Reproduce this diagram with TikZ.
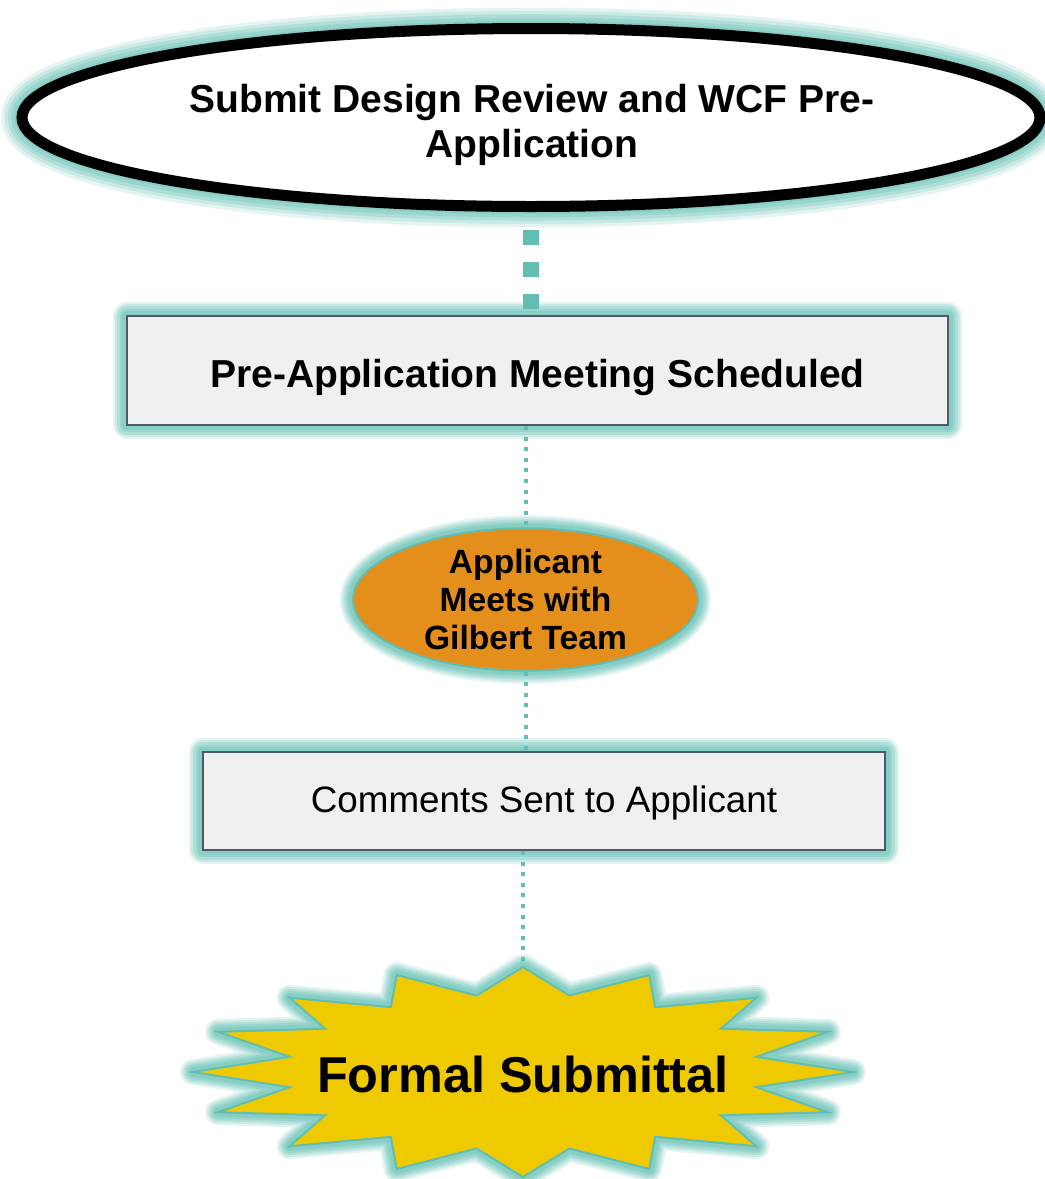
\documentclass[tikz,border=0pt]{standalone}
\usepackage{fontspec}
\setmainfont{Liberation Sans}
\usetikzlibrary{shapes.geometric,calc}

\definecolor{glowteal}{RGB}{92,188,176}
\definecolor{linkteal}{RGB}{98,190,179}
\definecolor{boxgray}{RGB}{240,240,240}
\definecolor{boxline}{RGB}{80,90,102}
\definecolor{meetorange}{RGB}{228,143,27}
\definecolor{burstyellow}{RGB}{240,202,0}

\tikzset{
  glow/.style={preaction={draw=glowteal,draw opacity=.16,line join=round,line width=#1},
               preaction={draw=glowteal,draw opacity=.2,line join=round,line width=0.84*#1},
               preaction={draw=glowteal,draw opacity=.24,line join=round,line width=0.68*#1},
               preaction={draw=glowteal,draw opacity=.26,line join=round,line width=0.52*#1},
               preaction={draw=glowteal,draw opacity=.3,line join=round,line width=0.36*#1}},
  glow/.default=14pt,
  stepbox/.style={rectangle,draw=boxline,line width=1pt,fill=boxgray,inner sep=0pt,glow},
  dotlink/.style={draw=linkteal,line width=2pt,dash pattern=on 2pt off 3.3pt},
  dashlink/.style={draw=linkteal,line width=8pt,dash pattern=on 7.5pt off 8.5pt},
}

\begin{document}
\begin{tikzpicture}[x=0.5pt,y=-0.5pt]
\useasboundingbox (0,0) rectangle (1045,1179);

\node [ellipse,draw=black,line width=5.5pt,fill=white,inner sep=0pt,
       minimum width=509pt,minimum height=89pt,glow=21pt] (submit) at (531,117.5) {};
\node [align=center,font=\bfseries\fontsize{19.5}{22.5}\selectfont] (submittext) at (532,125)
      {Submit Design Review and WCF Pre-\\Application};

\node [stepbox,minimum width=410.5pt,minimum height=54.5pt,text height=16.5pt,text depth=0pt,
       font=\bfseries\fontsize{19.5}{21.5}\selectfont] (prepmeet) at (537.5,370.5)
      {Pre-Application Meeting Scheduled};

\node [ellipse,draw=linkteal,line width=1pt,fill=meetorange,inner sep=0pt,
       minimum width=172.5pt,minimum height=67.5pt,glow=13pt,
       align=center,font=\bfseries\fontsize{16.8}{19}\selectfont] (meet) at (525.5,599.5)
      {Applicant\\Meets with\\Gilbert Team};

\node [stepbox,minimum width=341pt,minimum height=49pt,text height=11.7pt,text depth=0pt,
       font=\fontsize{18.4}{21}\selectfont] (comments) at (544,801)
      {Comments Sent to Applicant};

% the burst: 16 points round an ellipse
\filldraw [draw=linkteal,line width=1pt,fill=burstyellow,glow=13pt,shift={(523,1072)}]
  (0:330 and 105) \foreach \k in {0,...,15} { -- ({22.5*\k}:330 and 105) -- ({22.5*\k+11.25}:238 and 78) } -- cycle;
\node [font=\bfseries\fontsize{25.2}{30}\selectfont] (formal) at (523,1074) {Formal Submittal};
\coordinate (bursttop) at (523,967);

\draw [dashlink] ([yshift=-9pt]submit.south) -- ($(submit.south |- prepmeet.north)+(0,-6)$);
\draw [dotlink] (prepmeet.south -| meet.north) -- (meet.north);
\draw [dotlink] (meet.south) -- (meet.south |- comments.north);
\draw [dotlink] (comments.south -| bursttop) -- (bursttop);

\end{tikzpicture}
\end{document}
